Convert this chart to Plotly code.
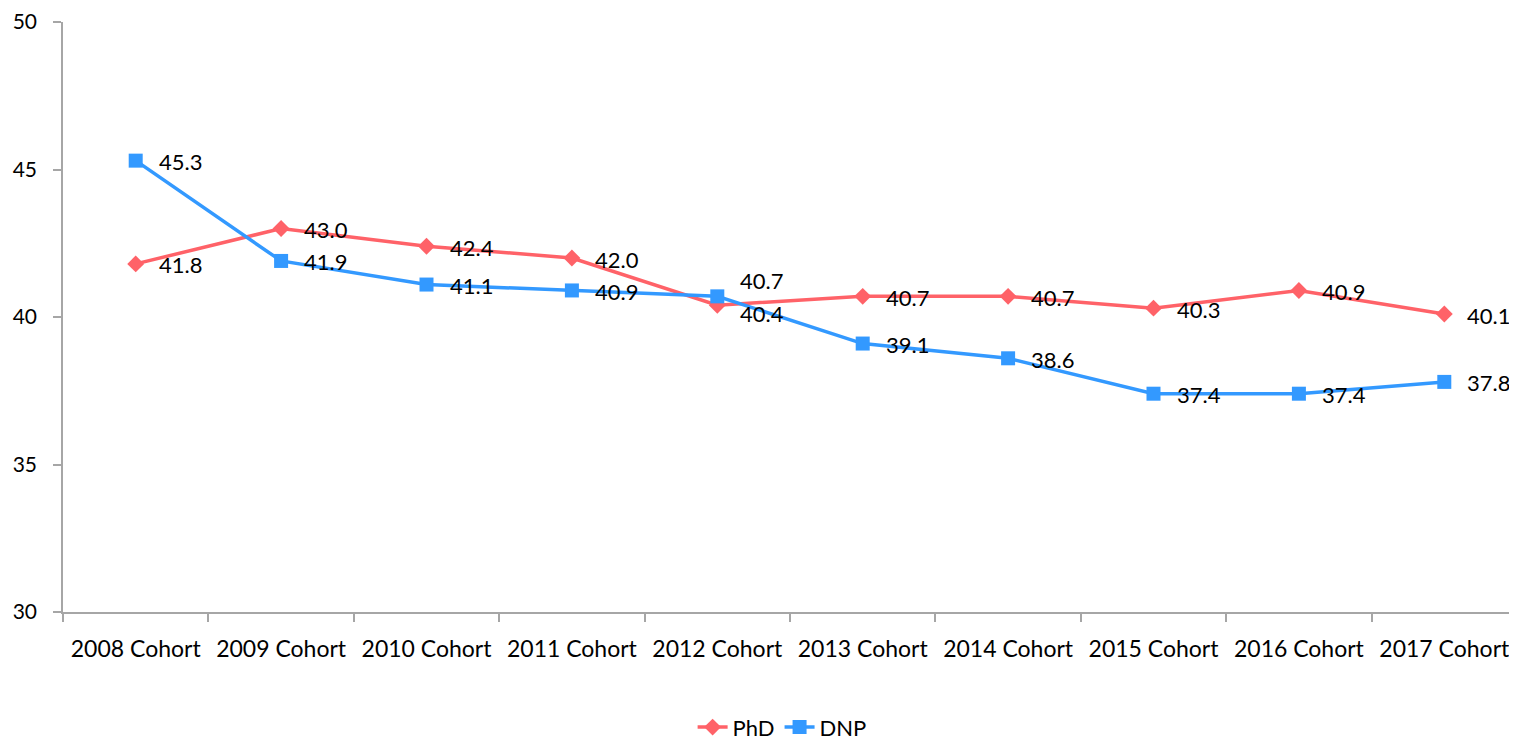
import plotly.graph_objects as go

categories = ["2008 Cohort", "2009 Cohort", "2010 Cohort", "2011 Cohort", "2012 Cohort",
              "2013 Cohort", "2014 Cohort", "2015 Cohort", "2016 Cohort", "2017 Cohort"]
phd = [41.8, 43.0, 42.4, 42.0, 40.4, 40.7, 40.7, 40.3, 40.9, 40.1]
dnp = [45.3, 41.9, 41.1, 40.9, 40.7, 39.1, 38.6, 37.4, 37.4, 37.8]
y_ticks = [30, 35, 40, 45, 50]

FONT = "Lato"
FS = 22
PHD_COLOR = "#FF6268"
DNP_COLOR = "#3399FF"

fig = go.Figure()
fig.add_trace(go.Scatter(x=categories, y=phd, name="PhD", mode="lines+markers",
                         line=dict(color=PHD_COLOR, width=3.5),
                         marker=dict(symbol="diamond", size=13, color=PHD_COLOR)))
fig.add_trace(go.Scatter(x=categories, y=dnp, name="DNP", mode="lines+markers",
                         line=dict(color=DNP_COLOR, width=3.5),
                         marker=dict(symbol="square", size=14, color=DNP_COLOR)))

annotations = []
for i, (c, v) in enumerate(zip(categories, phd)):
    ys = -1
    if i == 4:
        ys = -8
    annotations.append(dict(x=c, y=v, text=f"{v:.1f}", showarrow=False, xanchor="left",
                            xshift=21, yshift=ys, font=dict(family=FONT, size=FS, color="#000")))
for i, (c, v) in enumerate(zip(categories, dnp)):
    ys = -1
    if i == 4:
        ys = 16
    annotations.append(dict(x=c, y=v, text=f"{v:.1f}", showarrow=False, xanchor="left",
                            xshift=21, yshift=ys, font=dict(family=FONT, size=FS, color="#000")))

fig.update_layout(
    width=1509, height=734,
    margin=dict(l=55, r=0, t=14, b=130),
    paper_bgcolor="white", plot_bgcolor="white",
    font=dict(family=FONT, size=FS, color="#000"),
    annotations=annotations,
    showlegend=True,
    legend=dict(orientation="h", x=0.513, xanchor="center", xref="container",
                y=0.02, yanchor="middle", yref="container",
                font=dict(family=FONT, size=FS, color="#000")),
    xaxis=dict(type="category", range=[-0.5, 9.5], showgrid=False, showline=True,
               linecolor="#A6A6A6", linewidth=1.5, ticks="outside", tickson="boundaries",
               ticklen=8, tickcolor="#A6A6A6", tickwidth=1.5, ticklabelstandoff=16,
               automargin=False,
               tickfont=dict(family=FONT, size=23, color="#000")),
    yaxis=dict(range=[30, 50], tickvals=y_ticks, showgrid=False, showline=True,
               linecolor="#A6A6A6", linewidth=1.5, ticks="outside", ticklen=8,
               tickcolor="#A6A6A6", tickwidth=1.5, zeroline=False, ticklabelstandoff=12,
               ticklabeloverflow="allow", automargin=False,
               tickfont=dict(family=FONT, size=21, color="#000")),
)

fig.write_html("out.html")
